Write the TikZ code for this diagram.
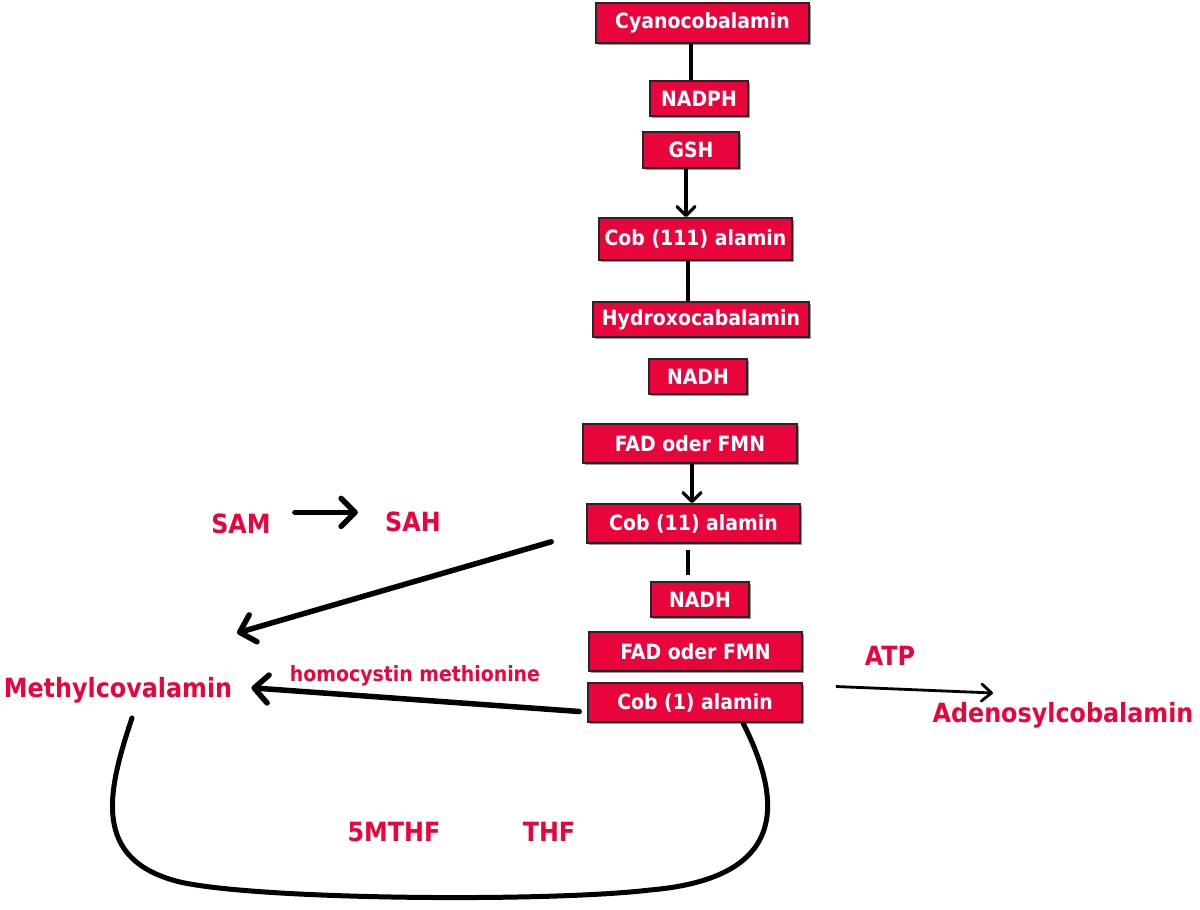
\documentclass[tikz,border=0pt]{standalone}
\usepackage{fontspec}
\setmainfont{DejaVu Sans Condensed}
\usetikzlibrary{arrows.meta,shadows,calc}
\definecolor{vred}{RGB}{234,4,60}
\begin{document}
\begin{tikzpicture}[x=1pt,y=-1pt,
  box/.style={rectangle,fill=vred,draw=black!85,line width=1.6pt,text=white,
    font=\fontsize{21}{23}\selectfont\bfseries,inner sep=0pt,
    drop shadow={shadow xshift=1.5pt,shadow yshift=-1.5pt,opacity=0.4,fill=black}},
  lab/.style={text=vred,font=\fontsize{26.5}{28}\selectfont\bfseries,inner sep=0pt,anchor=base},
  small/.style={text=vred,font=\fontsize{21}{23}\selectfont\bfseries,inner sep=0pt,anchor=base},
  conn/.style={line width=3.2pt,black},
  arr/.style={line width=3.2pt,black,-{Straight Barb[length=9pt,width=18pt,line width=3.2pt,round]}},
  bigarr/.style={line width=5.5pt,black,line cap=round,-{Straight Barb[length=14pt,width=28pt,line width=5.5pt,round]}},
  thinarr/.style={line width=2.8pt,black,-{Straight Barb[length=10pt,width=17pt,line width=2.8pt,round]}},
  loop/.style={line width=5pt,black,line cap=round}]
\useasboundingbox (0,0) rectangle (1200,910);
% boxes
\node[box,minimum width=213,minimum height=40] (cyano) at (702.5,23) {Cyanocobalamin};
\node[box,minimum width=98,minimum height=35] (nadph) at (699,98.5) {NADPH};
\node[box,minimum width=96,minimum height=36] (gsh) at (691,150) {GSH};
\node[box,minimum width=193,minimum height=42] (cob3) at (695.5,239) {Cob (111) alamin};
\node[box,minimum width=216,minimum height=35] (hydroxo) at (701,319.5) {Hydroxocabalamin};
\node[box,minimum width=98,minimum height=35] (nadh1) at (698,376.5) {NADH};
\node[box,minimum width=214,minimum height=39] (fad1) at (690,443.5) {FAD oder FMN};
\node[box,minimum width=213,minimum height=39] (cob2) at (693.5,523.5) {Cob (11) alamin};
\node[box,minimum width=98,minimum height=35] (nadh2) at (700,599.5) {NADH};
\node[box,minimum width=213,minimum height=39] (fad2) at (695.5,651.5) {FAD oder FMN};
\node[box,minimum width=214,minimum height=39] (cob1) at (695,702.5) {Cob (1) alamin};
% labels
\node[lab] (sam) at (241,533) {SAM};
\node[lab] (sah) at (413,531) {SAH};
\node[lab] (methyl) at (118,697) {Methylcovalamin};
\node[small] (homo) at (415,681) {homocystin methionine};
\node[lab] (atp) at (890,665) {ATP};
\node[lab] (adeno) at (1063,722) {Adenosylcobalamin};
\node[lab] (mthf) at (394,841) {5MTHF};
\node[lab] (thf) at (549,841) {THF};
% connectors
\draw[conn] ([xshift=-11.5pt]cyano.south) -- ([xshift=-8pt]nadph.north);
\draw[arr] ([xshift=-5pt]gsh.south) -- ([xshift=-9.5pt]cob3.north);
\draw[conn] ([xshift=-7.5pt]cob3.south) -- ([xshift=-13pt]hydroxo.north);
\draw[arr] ([xshift=2pt]fad1.south) -- ([xshift=-1.5pt]cob2.north);
\draw[conn,shorten <=6pt,shorten >=6pt] ([xshift=-5.5pt]cob2.south) -- ([xshift=-12pt]nadh2.north);
\draw[bigarr] (sam.east) ++(24,-11) coordinate (samr) -- ++(63,0);
\coordinate (m2) at (237,633);
\draw[bigarr] ($(cob2.south west)+(-35,-2)$) -- (m2);
\draw[bigarr] ($(cob1.west)+(-8,9)$) -- ($(methyl.east)+(19,-2)$);
\coordinate (ad) at (993,693);
\draw[thinarr] ($(cob1.east)+(33,-16)$) -- (ad);
\coordinate (ls) at (132,718);
\coordinate (rs) at (743,723);
\draw[loop] (ls) .. controls (108,790) and (90,860) .. (180,882)
  .. controls (260,900) and (550,902) .. (650,890)
  .. controls (790,878) and (782,800) .. (rs);
\end{tikzpicture}
\end{document}
